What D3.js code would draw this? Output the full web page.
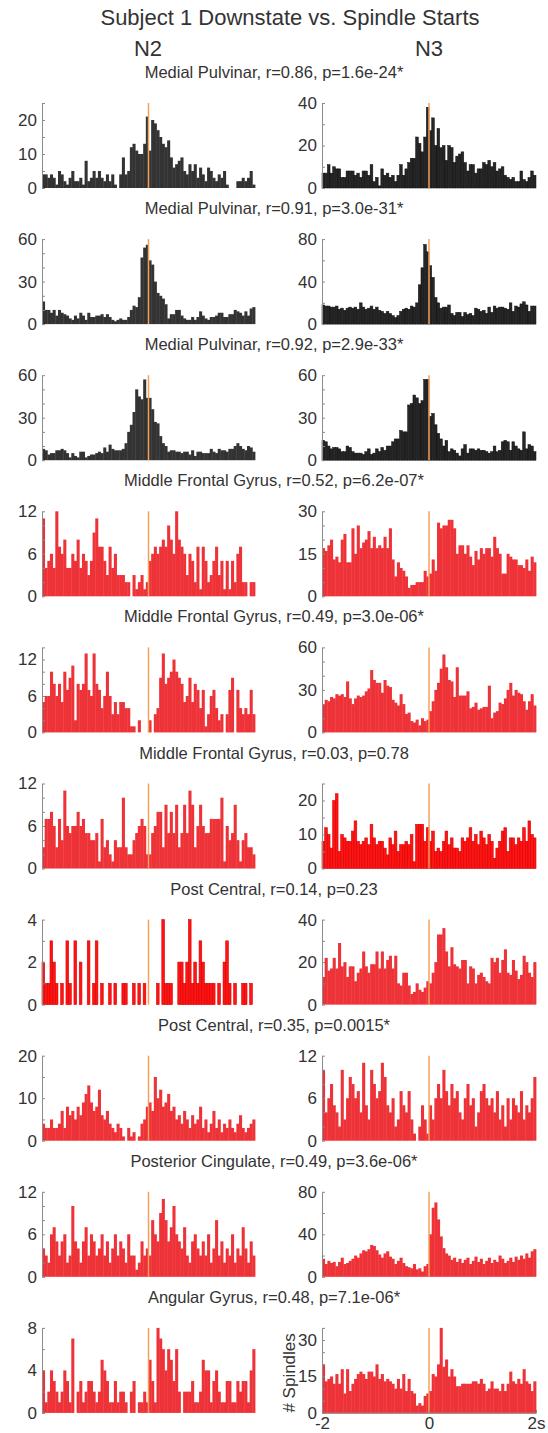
<!DOCTYPE html>
<html>
<head>
<meta charset="utf-8">
<script src="https://cdnjs.cloudflare.com/ajax/libs/d3/7.8.5/d3.min.js"></script>
<style>
body { margin: 0; background: #fff; }
svg text { font-family: "Liberation Sans", Arial, Helvetica, sans-serif; fill: #333; }
.axis path, .axis line { stroke: #8a8a8a; }
</style>
</head>
<body>
<svg id="chart" width="548" height="1433"></svg>
<script>
// spike-time histograms, 80 bins of 50 ms from -2 s to 2 s
var rowTitles = [
  "Medial Pulvinar, r=0.86, p=1.6e-24*",
  "Medial Pulvinar, r=0.91, p=3.0e-31*",
  "Medial Pulvinar, r=0.92, p=2.9e-33*",
  "Middle Frontal Gyrus, r=0.52, p=6.2e-07*",
  "Middle Frontal Gyrus, r=0.49, p=3.0e-06*",
  "Middle Frontal Gyrus, r=0.03, p=0.78",
  "Post Central, r=0.14, p=0.23",
  "Post Central, r=0.35, p=0.0015*",
  "Posterior Cingulate, r=0.49, p=3.6e-06*",
  "Angular Gyrus, r=0.48, p=7.1e-06*"
];

var mp1N2 = [4,4,3,4,3,1,5,4,2,1, 3,5,2,2,3,1,8,2,3,5, 3,5,3,2,4,2,4,1,0,4, 9,4,5,12,13,11,10,10,13,21,
             11,20,19,17,15,13,12,14,9,6, 7,8,9,5,4,7,5,7,3,6, 4,2,6,5,3,2,4,3,5,1, 0,0,0,2,2,3,2,3,5,1];
var mp1N3 = [7,7,11,7,10,9,9,5,5,8, 8,8,6,7,5,8,8,6,11,3, 5,1,9,6,7,5,6,3,6,11, 6,9,12,14,14,24,21,17,24,38,
             27,33,20,28,19,20,13,20,19,12, 15,16,17,12,8,11,11,7,9,9, 12,11,13,10,12,8,9,10,6,5, 4,5,3,3,8,4,3,5,8,6];
var mp2N2 = [16,10,10,8,10,6,10,8,7,6, 4,3,6,4,8,6,3,8,5,5, 6,6,7,5,7,5,3,2,3,4, 3,3,5,10,13,12,19,47,54,56,
             45,42,30,22,20,18,14,4,7,7, 10,10,6,4,3,3,5,3,5,9, 6,4,3,5,5,6,8,8,5,5, 7,7,10,9,8,6,9,6,11,12];
var mp2N3 = [18,17,17,16,16,17,14,15,13,15, 16,15,16,14,20,16,14,15,17,14, 16,13,12,10,12,10,8,6,8,12, 14,15,14,17,16,20,37,53,75,68,
             55,44,25,20,15,16,16,18,10,8, 11,11,7,11,9,10,8,15,14,12, 13,10,16,11,17,15,16,16,15,14, 20,12,17,16,19,21,18,12,17,17];
var mp3N2 = [8,7,4,5,5,7,7,8,7,5, 2,5,3,2,6,6,2,3,4,4, 5,6,5,9,6,11,8,7,7,7, 8,12,20,25,34,50,45,43,57,44,
             44,36,27,26,17,12,10,6,7,7, 6,6,5,6,6,4,7,3,6,6, 5,5,5,8,6,5,8,7,7,6, 8,8,10,12,10,8,7,10,9,6];
var mp3N3 = [14,13,10,8,9,9,8,6,6,10, 9,6,5,5,5,4,6,8,4,5, 8,6,9,7,10,10,13,15,15,21, 20,20,39,40,46,44,40,42,57,57,
             31,33,25,19,15,10,14,6,8,7, 5,3,8,11,5,8,8,7,8,7, 7,6,5,6,10,6,7,13,14,13, 7,13,10,8,7,20,8,11,10,6];
var mfg1N2 = [11,4,5,6,4,12,7,6,8,4, 4,6,5,8,4,6,5,3,5,9, 11,7,7,5,3,7,4,6,3,3, 3,2,2,0,3,1,2,3,1,2,
              5,6,7,6,7,8,7,10,8,6, 12,8,7,6,3,6,5,2,7,1, 7,5,2,3,5,7,3,5,1,5, 1,5,2,6,7,2,2,0,2,2];
var mfg1N3 = [17,16,18,20,13,14,12,20,22,12, 12,24,15,25,17,19,20,23,17,21, 17,18,17,21,17,24,13,7,12,10, 9,7,3,4,4,5,5,5,9,7,
              8,13,9,26,24,25,25,27,27,24, 15,18,18,15,18,14,11,16,13,17, 15,17,17,14,21,17,15,8,8,15, 14,13,13,11,11,10,13,9,14,12];
var mfg2N2 = [5,6,6,10,8,6,8,5,10,7, 9,11,2,8,7,8,13,7,6,13, 8,7,4,6,10,6,3,5,3,5, 5,4,4,1,1,0,2,0,0,0,
              2,0,3,4,9,13,8,9,10,12, 10,9,8,5,6,9,5,8,7,4, 7,1,3,6,7,4,2,3,0,3, 7,9,0,7,4,3,4,3,7,3];
var mfg2N3 = [20,23,22,25,24,27,26,27,25,36, 24,20,24,26,25,26,29,31,44,37, 35,35,28,37,33,32,23,21,19,27, 20,13,14,8,7,9,5,10,8,9,
              15,22,30,35,45,55,46,37,36,25, 46,26,26,26,29,17,18,21,16,17, 18,18,33,10,14,15,21,20,24,30, 35,26,30,28,27,22,16,22,27,19];
var mfg3N2 = [3,7,7,8,6,3,7,4,11,6, 5,6,6,8,6,7,5,5,4,4, 5,1,7,3,4,2,1,4,3,3, 10,3,2,2,4,5,6,7,6,2,
              2,5,6,8,8,3,9,5,8,5, 9,3,5,9,5,11,9,3,6,9, 6,5,5,7,7,7,7,10,1,6, 4,5,9,4,1,4,5,3,3,2];
var mfg3N3 = [8,12,10,6,20,22,5,10,9,8, 8,11,14,8,7,8,9,7,13,9, 7,8,8,6,4,9,7,11,5,7, 7,8,7,10,2,13,13,13,8,12,
              8,11,5,6,5,8,11,7,9,6, 6,5,9,8,9,12,8,10,7,11, 9,7,10,8,3,6,8,11,12,5, 9,9,7,9,8,12,8,14,10,9];
var pc1N2 = [2,1,1,3,2,1,0,1,0,3, 1,0,3,0,2,0,0,3,0,1, 3,0,1,0,0,1,0,1,0,0, 1,1,0,0,1,0,1,0,1,0,
             0,0,0,1,0,4,1,1,1,0, 0,2,2,1,2,4,1,2,1,3, 2,1,1,1,1,0,1,0,2,3, 1,0,1,0,0,1,1,0,1,0];
var pc1N3 = [13,22,16,17,22,17,29,18,20,13, 18,18,11,15,17,25,18,15,19,19, 25,17,25,17,21,23,17,23,10,9, 15,15,9,5,6,10,7,6,8,11,
             10,15,20,33,33,36,25,18,27,19, 18,17,21,21,10,18,17,10,14,15, 13,11,10,22,20,22,15,21,26,15, 14,21,16,12,14,23,20,15,13,20];
var pc2N2 = [4,3,3,5,3,3,4,7,3,8, 6,7,5,8,6,9,11,13,9,7, 8,12,6,5,7,4,3,2,4,3, 1,0,3,1,2,0,1,4,5,8,
             9,7,15,10,12,8,9,11,7,8, 5,6,4,7,5,3,6,4,5,8, 3,5,2,4,7,3,5,2,4,3, 5,3,2,4,6,3,2,3,4,5];
var pc2N3 = [10,4,6,8,5,4,2,10,3,6, 9,8,6,7,4,11,5,3,10,8, 6,7,11,9,5,4,6,2,3,7, 5,4,7,3,1,0,2,5,3,1,
             5,3,6,8,6,10,7,5,8,6, 7,4,3,6,8,5,6,2,4,7, 8,6,5,6,4,7,3,5,2,6, 3,6,5,4,7,3,5,4,6,9];
var postcN2 = [4,3,2,6,7,5,3,5,6,2, 3,10,5,4,2,5,7,3,6,5, 3,4,6,3,5,2,4,6,3,5, 4,2,6,3,3,1,2,5,3,4,
               3,8,6,5,9,11,8,5,7,10, 6,5,4,7,3,2,5,6,4,3, 5,3,6,2,4,8,3,5,2,4, 3,6,2,4,3,7,4,2,5,3];
var postcN3 = [17,12,15,13,14,10,14,18,12,13, 15,17,20,18,22,25,24,26,30,29, 25,21,18,22,24,19,17,12,15,18, 13,10,9,8,12,7,8,5,10,12,
               40,65,70,54,38,27,22,20,16,18, 14,17,13,16,18,12,15,19,14,17, 12,15,18,13,16,14,20,17,13,15, 18,14,19,16,20,17,22,18,24,26];
var agN2 = [4,1,2,4,3,2,1,2,4,3, 1,7,0,2,3,1,2,3,3,2, 1,2,5,4,3,1,1,3,1,2, 2,1,0,2,3,0,1,1,2,1,
            5,3,1,8,7,6,4,6,5,3, 6,2,0,2,2,2,3,1,1,2, 5,4,4,1,3,4,2,1,1,3, 3,1,1,3,2,3,3,1,4,6];
var agN3 = [20,13,14,15,12,16,12,18,8,18, 9,12,14,16,17,16,14,17,17,15, 20,14,16,13,14,13,12,10,14,10, 16,9,14,9,8,3,4,3,7,8,
            9,16,15,20,35,19,22,15,18,15, 11,11,12,12,12,12,13,13,12,14, 12,9,10,13,10,10,9,12,9,12, 17,13,12,14,12,18,13,12,9,13];

var n2Series = [mp1N2, mp2N2, mp3N2, mfg1N2, mfg2N2, mfg3N2, pc1N2, pc2N2, postcN2, agN2];
var n3Series = [mp1N3, mp2N3, mp3N3, mfg1N3, mfg2N3, mfg3N3, pc1N3, pc2N3, postcN3, agN3];

// y limits, labelled ticks and minor tick step for each panel
var n2Max = [25, 60, 60, 12, 14, 12, 4, 20, 12, 8];
var n2Labels = [[0,10,20],[0,30,60],[0,30,60],[0,6,12],[0,6,12],[0,6,12],[0,2,4],[0,10,20],[0,6,12],[0,4,8]];
var n2Step = [5, 10, 10, 2, 2, 2, 1, 5, 2, 2];
var n3Max = [40, 80, 60, 30, 60, 25, 40, 12, 80, 35];
var n3Labels = [[0,20,40],[0,40,80],[0,30,60],[0,15,30],[0,30,60],[0,10,20],[0,20,40],[0,6,12],[0,40,80],[0,15,30]];
var n3Step = [10, 20, 10, 5, 10, 5, 10, 2, 20, 5];
var xTicks = [-2, 0, 2];
var xTickLabels = ["-2", "0", "2s"];

var svg = d3.select("#chart");
var binW = 0.05;
var panelH = 85;
var rowPitch = 136.1;
var firstBase = 188;
var cols = [{x0: 42, x1: 255}, {x0: 322, x1: 536}];

svg.append("text").attr("x", 290).attr("y", 25).attr("text-anchor", "middle")
  .style("font-size", "22px").text("Subject 1 Downstate vs. Spindle Starts");
svg.append("text").attr("x", 148).attr("y", 56).attr("text-anchor", "middle")
  .style("font-size", "22px").text("N2");
svg.append("text").attr("x", 429).attr("y", 56).attr("text-anchor", "middle")
  .style("font-size", "22px").text("N3");

function drawPanel(data, col, base, yMax, labels, step, style) {
  var x = d3.scaleLinear().domain([-2, 2]).range([col.x0, col.x1]);
  var y = d3.scaleLinear().domain([0, yMax]).range([base, base - panelH]);
  var g = svg.append("g");

  g.selectAll("rect").data(data).enter().append("rect")
    .attr("x", function(d, i) { return x(-2 + i * binW); })
    .attr("width", function(d, i) { return x(-2 + (i + 1) * binW) - x(-2 + i * binW) + (style.stroke ? 0 : 0.4); })
    .attr("y", function(d) { return y(d); })
    .attr("height", function(d) { return base - y(d); })
    .attr("fill", style.fill)
    .attr("stroke", style.stroke || "none")
    .attr("stroke-width", style.sw || 0);

  var ticks = d3.range(0, yMax + 0.001, step);
  g.append("g").attr("class", "axis")
    .attr("transform", "translate(" + col.x0 + ",0)")
    .call(d3.axisLeft(y).tickValues(ticks).tickSizeInner(-3).tickSizeOuter(0).tickPadding(5)
      .tickFormat(function(d) { return labels.indexOf(d) >= 0 ? d : ""; }))
    .call(function(a) {
      a.selectAll("text").style("font-size", "17px").style("fill", "#333");
    });

  g.append("line")
    .attr("x1", x(0)).attr("x2", x(0))
    .attr("y1", y(yMax)).attr("y2", base)
    .attr("stroke", "#f5a05a").attr("stroke-width", 1.5);
  return {x: x, y: y, g: g};
}

var gray2 = {fill: "#333333"};
var gray3 = {fill: "#262626", stroke: "#0d0d0d", sw: 0.5};
var red = {fill: "#ee3338"};
var redEdge = {fill: "#ff1414", stroke: "#d80000", sw: 0.6};

for (var r = 0; r < 10; r++) {
  var base = firstBase + r * rowPitch;
  svg.append("text").attr("x", 274).attr("y", base - 110).attr("text-anchor", "middle")
    .style("font-size", "16.5px").text(rowTitles[r]);
  var s2 = r < 3 ? gray2 : (r === 6 ? redEdge : red);
  var s3 = r < 3 ? gray3 : (r === 5 ? redEdge : red);
  drawPanel(n2Series[r], cols[0], base, n2Max[r], n2Labels[r], n2Step[r], s2);
  var p = drawPanel(n3Series[r], cols[1], base, n3Max[r], n3Labels[r], n3Step[r], s3);
  if (r === 9) {
    p.g.append("g").attr("class", "axis")
      .attr("transform", "translate(0," + base + ")")
      .call(d3.axisBottom(p.x).tickValues(xTicks).tickSizeInner(-3).tickSizeOuter(0).tickPadding(4)
        .tickFormat(function(d, i) { return xTickLabels[i]; }))
      .call(function(a) { a.selectAll("text").style("font-size", "17px").style("fill", "#333"); });
    svg.append("text")
      .attr("transform", "translate(295," + (base - 40) + ") rotate(-90)")
      .attr("text-anchor", "middle").style("font-size", "17px").text("# Spindles");
  }
}
</script>
</body>
</html>
